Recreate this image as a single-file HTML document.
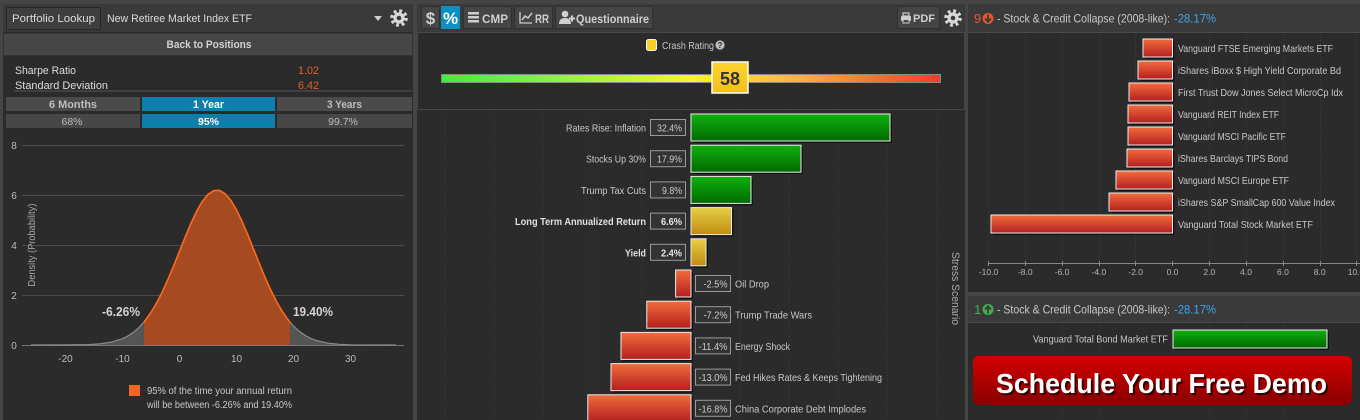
<!DOCTYPE html>
<html><head><meta charset="utf-8"><style>
html,body{margin:0;padding:0;background:#454545;width:1360px;height:420px;overflow:hidden}
svg{display:block}
text{font-family:"Liberation Sans",Arial,sans-serif}
</style></head><body>
<svg width="1360" height="420" viewBox="0 0 1360 420" xmlns="http://www.w3.org/2000/svg">
<defs>
<linearGradient id="gG" x1="0" y1="0" x2="0" y2="1"><stop offset="0" stop-color="#10b010"/><stop offset="1" stop-color="#006a00"/></linearGradient>
<linearGradient id="gY" x1="0" y1="0" x2="0" y2="1"><stop offset="0" stop-color="#e6cf45"/><stop offset="1" stop-color="#c08c12"/></linearGradient>
<linearGradient id="gR" x1="0" y1="0" x2="0" y2="1"><stop offset="0" stop-color="#f26c3c"/><stop offset="1" stop-color="#b41f20"/></linearGradient>
<linearGradient id="gBar" x1="0" y1="0" x2="1" y2="0"><stop offset="0" stop-color="#3cf03c"/><stop offset="0.5" stop-color="#f6f62c"/><stop offset="0.72" stop-color="#fcb232"/><stop offset="1" stop-color="#ff3434"/></linearGradient>
<linearGradient id="gBox" x1="0" y1="0" x2="0" y2="1"><stop offset="0" stop-color="#fdd22e"/><stop offset="1" stop-color="#f5bf1c"/></linearGradient>
<linearGradient id="gDemo" x1="0" y1="0" x2="0" y2="1"><stop offset="0" stop-color="#d40000"/><stop offset="1" stop-color="#880000"/></linearGradient>
</defs>

<!-- ============ LEFT PANEL ============ -->
<rect x="3" y="4" width="410" height="416" fill="#2b2b2b"/>
<rect x="3" y="4" width="410" height="28" fill="#3a3a3a"/>
<rect x="6.5" y="7.5" width="94" height="22" fill="#3e3e3e" stroke="#282828"/>
<text x="12" y="22" font-size="11" fill="#dcdcdc" textLength="83" lengthAdjust="spacingAndGlyphs">Portfolio Lookup</text>
<text x="107" y="22" font-size="11" fill="#dcdcdc" textLength="145" lengthAdjust="spacingAndGlyphs">New Retiree Market Index ETF</text>
<polygon points="374,16 382,16 378,21" fill="#d0d0d0"/>
<g transform="translate(399,18)"><circle r="7" fill="none" stroke="#d8d8d8" stroke-width="3.6" stroke-dasharray="2.75 2.75"/><circle r="5.6" fill="#d8d8d8"/><circle r="2.3" fill="#3a3a3a"/></g>
<rect x="3.5" y="33.5" width="409" height="22" fill="#464646" stroke="#333"/>
<text x="209" y="48" font-size="11" font-weight="bold" fill="#d0d0d0" text-anchor="middle" textLength="85" lengthAdjust="spacingAndGlyphs">Back to Positions</text>
<text x="15" y="74" font-size="11" fill="#dcdcdc" textLength="61" lengthAdjust="spacingAndGlyphs">Sharpe Ratio</text>
<text x="15" y="89" font-size="11" fill="#dcdcdc" textLength="93" lengthAdjust="spacingAndGlyphs">Standard Deviation</text>
<text x="298" y="74" font-size="11" fill="#e0622a" textLength="21" lengthAdjust="spacingAndGlyphs">1.02</text>
<text x="298" y="89" font-size="11" fill="#e0622a" textLength="21" lengthAdjust="spacingAndGlyphs">6.42</text>
<line x1="14" y1="91" x2="412" y2="91" stroke="#555"/>
<rect x="6" y="97" width="134" height="14" fill="#4a4a4a"/>
<rect x="142" y="97" width="133" height="14" fill="#0c7fad"/>
<rect x="277" y="97" width="135" height="14" fill="#4a4a4a"/>
<rect x="6" y="114" width="134" height="14" fill="#474747"/>
<rect x="142" y="114" width="133" height="14" fill="#0c7fad"/>
<rect x="277" y="114" width="135" height="14" fill="#474747"/>
<text x="73" y="108" font-size="11" font-weight="bold" fill="#bdbdbd" text-anchor="middle" textLength="48" lengthAdjust="spacingAndGlyphs">6 Months</text>
<text x="208.5" y="108" font-size="11" font-weight="bold" fill="#ffffff" text-anchor="middle" textLength="31" lengthAdjust="spacingAndGlyphs">1 Year</text>
<text x="344.5" y="108" font-size="11" font-weight="bold" fill="#bdbdbd" text-anchor="middle" textLength="35" lengthAdjust="spacingAndGlyphs">3 Years</text>
<text x="72" y="125" font-size="10.5" fill="#bdbdbd" text-anchor="middle">68%</text>
<text x="208.5" y="125" font-size="10.5" font-weight="bold" fill="#ffffff" text-anchor="middle">95%</text>
<text x="343" y="125" font-size="10.5" fill="#bdbdbd" text-anchor="middle">99.7%</text>

<!-- chart grid -->
<g stroke="#4c4c4c" stroke-width="1">
<line x1="22" y1="145.5" x2="404" y2="145.5"/>
<line x1="22" y1="195.5" x2="404" y2="195.5"/>
<line x1="22" y1="245.5" x2="404" y2="245.5"/>
<line x1="22" y1="295.5" x2="404" y2="295.5"/>
</g>
<line x1="22" y1="345.5" x2="404" y2="345.5" stroke="#777"/>
<g font-size="10" fill="#bbbbbb" text-anchor="middle">
<text x="14" y="149">8</text><text x="14" y="199">6</text><text x="14" y="249">4</text><text x="14" y="299">2</text><text x="14" y="349">0</text>
<text x="65.5" y="362">-20</text><text x="122.5" y="362">-10</text><text x="179.5" y="362">0</text><text x="236.5" y="362">10</text><text x="293.5" y="362">20</text><text x="350.5" y="362">30</text>
</g>
<text transform="translate(35,245) rotate(-90)" font-size="10" fill="#aaaaaa" text-anchor="middle" textLength="83" lengthAdjust="spacingAndGlyphs">Density (Probability)</text>

<!-- tails -->
<polygon fill="#555555" points="31,345 65.5,344.9 88.3,344.6 99.7,343.9 111.1,342.2 122.5,338.7 128.2,335.8 133.9,332 139.6,326.9 143.8,322.2 143.8,345"/>
<polygon fill="#555555" points="290.1,345 290.1,322.2 293.5,326.1 299.2,331.3 304.9,335.3 310.6,338.3 316.3,340.5 327.7,343.1 339.1,344.3 350.5,344.8 396,345"/>
<polyline fill="none" stroke="#8a8a8a" stroke-width="1.2" points="31,345 65.5,344.9 88.3,344.6 99.7,343.9 111.1,342.2 122.5,338.7 128.2,335.8 133.9,332 139.6,326.9 143.8,322.2"/>
<polyline fill="none" stroke="#8a8a8a" stroke-width="1.2" points="290.1,322.2 293.5,326.1 299.2,331.3 304.9,335.3 310.6,338.3 316.3,340.5 327.7,343.1 339.1,344.3 350.5,344.8 396,345"/>
<!-- center -->
<polygon fill="#a64a21" points="143.8,345 143.8,322.2 145.3,320.4 151,312.4 156.7,302.8 162.4,291.7 168.1,279.1 173.8,265.5 179.5,251.3 185.2,237 190.9,223.5 196.6,211.4 202.3,201.5 208,194.4 213.7,190.6 219.4,190.3 225.1,193.7 230.8,200.3 236.5,209.9 242.2,221.7 247.9,235.1 253.6,249.3 259.3,263.5 265,277.3 270.7,290 276.4,301.4 282.1,311.2 287.8,319.4 290.1,322.2 290.1,345"/>
<polyline fill="none" stroke="#ff6a1c" stroke-width="1.6" points="143.8,322.2 145.3,320.4 151,312.4 156.7,302.8 162.4,291.7 168.1,279.1 173.8,265.5 179.5,251.3 185.2,237 190.9,223.5 196.6,211.4 202.3,201.5 208,194.4 213.7,190.6 219.4,190.3 225.1,193.7 230.8,200.3 236.5,209.9 242.2,221.7 247.9,235.1 253.6,249.3 259.3,263.5 265,277.3 270.7,290 276.4,301.4 282.1,311.2 287.8,319.4 290.1,322.2"/>
<text x="102" y="316" font-size="13" font-weight="bold" fill="#d4d4d4" textLength="38" lengthAdjust="spacingAndGlyphs">-6.26%</text>
<text x="293" y="316" font-size="13" font-weight="bold" fill="#d4d4d4" textLength="40" lengthAdjust="spacingAndGlyphs">19.40%</text>
<rect x="129" y="385" width="11" height="11" fill="#f26522"/>
<text x="147" y="394" font-size="10" fill="#c8c8c8" textLength="145" lengthAdjust="spacingAndGlyphs">95% of the time your annual return</text>
<text x="147" y="408" font-size="10" fill="#c8c8c8" textLength="145" lengthAdjust="spacingAndGlyphs">will be between -6.26% and 19.40%</text>

<!-- ============ MIDDLE PANEL ============ -->
<rect x="417" y="4" width="548" height="416" fill="#2b2b2b"/>
<rect x="417" y="4" width="548" height="28" fill="#3a3a3a"/>
<rect x="421.5" y="6.5" width="18" height="22" fill="#454545" stroke="#303030"/>
<text x="430.5" y="24" font-size="17" font-weight="bold" fill="#cfcfcf" text-anchor="middle">$</text>
<rect x="441" y="6" width="19" height="23" fill="#0e8fc0"/>
<text x="450.5" y="24" font-size="17" font-weight="bold" fill="#ffffff" text-anchor="middle">%</text>
<rect x="463.5" y="6.5" width="48" height="22" fill="#454545" stroke="#303030"/>
<g fill="#cfcfcf"><rect x="468" y="12" width="11" height="2.5"/><rect x="468" y="16" width="11" height="2.5"/><rect x="468" y="20" width="11" height="2.5"/></g>
<text x="482" y="23" font-size="12" font-weight="bold" fill="#cfcfcf" textLength="26" lengthAdjust="spacingAndGlyphs">CMP</text>
<rect x="514.5" y="6.5" width="38" height="22" fill="#454545" stroke="#303030"/>
<polyline points="520,12 520,23 532,23" fill="none" stroke="#cfcfcf" stroke-width="1.3"/>
<polyline points="522,20 525,16 528,18 532,13" fill="none" stroke="#cfcfcf" stroke-width="1.5"/>
<text x="535" y="23" font-size="12" font-weight="bold" fill="#cfcfcf" textLength="14" lengthAdjust="spacingAndGlyphs">RR</text>
<rect x="555.5" y="6.5" width="97" height="22" fill="#454545" stroke="#303030"/>
<circle cx="565" cy="14" r="3.3" fill="#cfcfcf"/><path d="M559,24 Q559,18 565,18 Q571,18 571,24 Z" fill="#cfcfcf"/>
<rect x="569" y="17.5" width="6" height="2" fill="#cfcfcf"/><rect x="571" y="15.5" width="2" height="6" fill="#cfcfcf"/>
<text x="576" y="23" font-size="12" font-weight="bold" fill="#cfcfcf" textLength="73" lengthAdjust="spacingAndGlyphs">Questionnaire</text>
<rect x="897.5" y="6.5" width="42" height="22" fill="#454545" stroke="#303030"/>
<rect x="903" y="13" width="6" height="3" fill="none" stroke="#cfcfcf" stroke-width="1.2"/>
<rect x="901" y="16" width="10" height="5" rx="1" fill="#cfcfcf"/>
<rect x="903" y="19.5" width="6" height="3.5" fill="#454545" stroke="#cfcfcf" stroke-width="1"/>
<text x="913" y="22" font-size="11" font-weight="bold" fill="#cfcfcf" textLength="22" lengthAdjust="spacingAndGlyphs">PDF</text>
<g transform="translate(953,18)"><circle r="7" fill="none" stroke="#d8d8d8" stroke-width="3.6" stroke-dasharray="2.75 2.75"/><circle r="5.6" fill="#d8d8d8"/><circle r="2.3" fill="#3a3a3a"/></g>

<rect x="417.5" y="32.5" width="547" height="77" fill="#2b2b2b" stroke="#474747"/>
<rect x="646.5" y="39.5" width="10" height="11" rx="2" fill="#f7cf2a" stroke="#f2f2f2"/>
<text x="662" y="49" font-size="10" fill="#c8c8c8" textLength="52" lengthAdjust="spacingAndGlyphs">Crash Rating</text>
<circle cx="720" cy="45" r="4.6" fill="#bdbdbd"/>
<text x="720" y="48.2" font-size="8" font-weight="bold" fill="#2b2b2b" text-anchor="middle">?</text>
<rect x="441.5" y="74.5" width="499" height="8" fill="url(#gBar)" stroke="#8a8a8a"/>
<rect x="712" y="62" width="36" height="31" fill="url(#gBox)" stroke="#ffffff" stroke-width="1.5"/>
<text x="730" y="85" font-size="18" font-weight="bold" fill="#333333" text-anchor="middle">58</text>

<!-- grid -->
<g stroke="#3c3c3c" stroke-dasharray="1 2">
<line x1="445" y1="111" x2="445" y2="420"/><line x1="494" y1="111" x2="494" y2="420"/><line x1="543" y1="111" x2="543" y2="420"/>
<line x1="592" y1="111" x2="592" y2="420"/><line x1="642" y1="111" x2="642" y2="420"/><line x1="740" y1="111" x2="740" y2="420"/>
<line x1="789" y1="111" x2="789" y2="420"/><line x1="838" y1="111" x2="838" y2="420"/><line x1="887" y1="111" x2="887" y2="420"/><line x1="937" y1="111" x2="937" y2="420"/>
</g>

<!-- bars -->
<g fill="#000" opacity="0.55">
<rect x="693" y="116" width="199" height="27"/>
<rect x="693" y="147.2" width="110" height="27"/>
<rect x="693" y="178.4" width="60" height="27"/>
<rect x="693" y="209.6" width="40.5" height="27"/>
<rect x="693" y="240.8" width="15" height="27"/>
<rect x="677.6" y="272" width="15.4" height="27"/>
<rect x="648.8" y="303.2" width="44.2" height="27"/>
<rect x="623" y="334.4" width="70" height="27"/>
<rect x="613" y="365.6" width="80" height="27"/>
<rect x="589.8" y="396.8" width="103.2" height="27"/>
</g>
<g stroke="#ececec" stroke-width="1">
<rect x="691" y="114" width="199" height="27" fill="url(#gG)"/>
<rect x="691" y="145.2" width="110" height="27" fill="url(#gG)"/>
<rect x="691" y="176.4" width="60" height="27" fill="url(#gG)"/>
<rect x="691" y="207.6" width="40.5" height="27" fill="url(#gY)"/>
<rect x="691" y="238.8" width="15" height="27" fill="url(#gY)"/>
<rect x="675.6" y="270" width="15.4" height="27" fill="url(#gR)"/>
<rect x="646.8" y="301.2" width="44.2" height="27" fill="url(#gR)"/>
<rect x="621" y="332.4" width="70" height="27" fill="url(#gR)"/>
<rect x="611" y="363.6" width="80" height="27" fill="url(#gR)"/>
<rect x="587.8" y="394.8" width="103.2" height="27" fill="url(#gR)"/>
</g>
<!-- value boxes -->
<g fill="#333333" stroke="#9a9a9a">
<rect x="650.5" y="119.5" width="35" height="16"/>
<rect x="650.5" y="150.7" width="35" height="16"/>
<rect x="650.5" y="181.9" width="35" height="16"/>
<rect x="650.5" y="213.1" width="35" height="16"/>
<rect x="650.5" y="244.3" width="35" height="16"/>
<rect x="695.5" y="275.5" width="35" height="16"/>
<rect x="695.5" y="306.7" width="35" height="16"/>
<rect x="695.5" y="337.9" width="35" height="16"/>
<rect x="695.5" y="369.1" width="35" height="16"/>
<rect x="695.5" y="400.3" width="35" height="16"/>
</g>
<g font-size="10" fill="#cccccc" text-anchor="end">
<text x="682" y="131.5" textLength="25" lengthAdjust="spacingAndGlyphs">32.4%</text>
<text x="682" y="162.7" textLength="25" lengthAdjust="spacingAndGlyphs">17.9%</text>
<text x="682" y="193.9" textLength="20" lengthAdjust="spacingAndGlyphs">9.8%</text>
<text x="682" y="225.1" font-weight="bold" fill="#e6e6e6" textLength="21" lengthAdjust="spacingAndGlyphs">6.6%</text>
<text x="682" y="256.3" font-weight="bold" fill="#e6e6e6" textLength="21" lengthAdjust="spacingAndGlyphs">2.4%</text>
<text x="727.5" y="287.5" textLength="24" lengthAdjust="spacingAndGlyphs">-2.5%</text>
<text x="727.5" y="318.7" textLength="24" lengthAdjust="spacingAndGlyphs">-7.2%</text>
<text x="727.5" y="349.9" textLength="29" lengthAdjust="spacingAndGlyphs">-11.4%</text>
<text x="727.5" y="381.1" textLength="29" lengthAdjust="spacingAndGlyphs">-13.0%</text>
<text x="727.5" y="412.3" textLength="29" lengthAdjust="spacingAndGlyphs">-16.8%</text>
</g>
<g font-size="10.5" fill="#c8c8c8">
<text x="646" y="131.5" text-anchor="end" textLength="80" lengthAdjust="spacingAndGlyphs">Rates Rise: Inflation</text>
<text x="646" y="162.7" text-anchor="end" textLength="60" lengthAdjust="spacingAndGlyphs">Stocks Up 30%</text>
<text x="646" y="193.9" text-anchor="end" textLength="65" lengthAdjust="spacingAndGlyphs">Trump Tax Cuts</text>
<text x="646" y="225.1" text-anchor="end" font-weight="bold" fill="#e0e0e0" textLength="131" lengthAdjust="spacingAndGlyphs">Long Term Annualized Return</text>
<text x="646" y="256.3" text-anchor="end" font-weight="bold" fill="#e0e0e0" textLength="21" lengthAdjust="spacingAndGlyphs">Yield</text>
<text x="735" y="287.5" textLength="34" lengthAdjust="spacingAndGlyphs">Oil Drop</text>
<text x="735" y="318.7" textLength="77" lengthAdjust="spacingAndGlyphs">Trump Trade Wars</text>
<text x="735" y="349.9" textLength="55" lengthAdjust="spacingAndGlyphs">Energy Shock</text>
<text x="735" y="381.1" textLength="147" lengthAdjust="spacingAndGlyphs">Fed Hikes Rates &amp; Keeps Tightening</text>
<text x="735" y="412.3" textLength="131" lengthAdjust="spacingAndGlyphs">China Corporate Debt Implodes</text>
</g>
<text transform="translate(952,252) rotate(90)" font-size="11" fill="#aaaaaa" textLength="73" lengthAdjust="spacingAndGlyphs">Stress Scenario</text>

<!-- ============ RIGHT PANEL ============ -->
<rect x="968" y="4" width="392" height="416" fill="#2b2b2b"/>
<rect x="968" y="4" width="392" height="28" fill="#3a3a3a"/>
<line x1="968" y1="32.5" x2="1360" y2="32.5" stroke="#4a4a4a"/>
<text x="974" y="23" font-size="13" fill="#e8572a">9</text>
<circle cx="988" cy="18.5" r="5.5" fill="#e8572a"/>
<path d="M988,14.5 L988,21.5 M985,18.5 L988,21.8 L991,18.5" stroke="#3a3a3a" stroke-width="1.8" fill="none"/>
<text x="997" y="22.5" font-size="12" fill="#c8c8c8" textLength="173" lengthAdjust="spacingAndGlyphs">- Stock &amp; Credit Collapse (2008-like):</text>
<text x="1174" y="22.5" font-size="12" fill="#3fa6ef" textLength="42" lengthAdjust="spacingAndGlyphs">-28.17%</text>

<g stroke="#3c3c3c" stroke-dasharray="1 2">
<line x1="988.5" y1="34" x2="988.5" y2="262"/><line x1="1025.5" y1="34" x2="1025.5" y2="262"/><line x1="1062.5" y1="34" x2="1062.5" y2="262"/>
<line x1="1099.5" y1="34" x2="1099.5" y2="262"/><line x1="1135.5" y1="34" x2="1135.5" y2="262"/><line x1="1209.5" y1="34" x2="1209.5" y2="262"/>
<line x1="1246.5" y1="34" x2="1246.5" y2="262"/><line x1="1283.5" y1="34" x2="1283.5" y2="262"/><line x1="1320.5" y1="34" x2="1320.5" y2="262"/><line x1="1356.5" y1="34" x2="1356.5" y2="262"/>
</g>
<g fill="#000" opacity="0.55">
<rect x="1145" y="41" width="29.5" height="18"/>
<rect x="1140" y="63" width="34.5" height="18"/>
<rect x="1131" y="85" width="43.5" height="18"/>
<rect x="1130" y="107" width="44.5" height="18"/>
<rect x="1130" y="129" width="44.5" height="18"/>
<rect x="1129" y="151" width="45.5" height="18"/>
<rect x="1118" y="173" width="56.5" height="18"/>
<rect x="1111" y="195" width="63.5" height="18"/>
<rect x="993" y="217" width="181.5" height="18"/>
</g>
<g stroke="#ececec" stroke-width="1" fill="url(#gR)">
<rect x="1143" y="39" width="29.5" height="18"/>
<rect x="1138" y="61" width="34.5" height="18"/>
<rect x="1129" y="83" width="43.5" height="18"/>
<rect x="1128" y="105" width="44.5" height="18"/>
<rect x="1128" y="127" width="44.5" height="18"/>
<rect x="1127" y="149" width="45.5" height="18"/>
<rect x="1116" y="171" width="56.5" height="18"/>
<rect x="1109" y="193" width="63.5" height="18"/>
<rect x="991" y="215" width="181.5" height="18"/>
</g>
<g font-size="10.5" fill="#c8c8c8">
<text x="1178" y="52" textLength="155" lengthAdjust="spacingAndGlyphs">Vanguard FTSE Emerging Markets ETF</text>
<text x="1178" y="74" textLength="163" lengthAdjust="spacingAndGlyphs">iShares iBoxx $ High Yield Corporate Bd</text>
<text x="1178" y="96" textLength="165" lengthAdjust="spacingAndGlyphs">First Trust Dow Jones Select MicroCp Idx</text>
<text x="1178" y="118" textLength="101" lengthAdjust="spacingAndGlyphs">Vanguard REIT Index ETF</text>
<text x="1178" y="140" textLength="108" lengthAdjust="spacingAndGlyphs">Vanguard MSCI Pacific ETF</text>
<text x="1178" y="162" textLength="110" lengthAdjust="spacingAndGlyphs">iShares Barclays TIPS Bond</text>
<text x="1178" y="184" textLength="111" lengthAdjust="spacingAndGlyphs">Vanguard MSCI Europe ETF</text>
<text x="1178" y="206" textLength="157" lengthAdjust="spacingAndGlyphs">iShares S&amp;P SmallCap 600 Value Index</text>
<text x="1178" y="228" textLength="135" lengthAdjust="spacingAndGlyphs">Vanguard Total Stock Market ETF</text>
</g>
<line x1="988" y1="263.5" x2="1360" y2="263.5" stroke="#888"/>
<g stroke="#888">
<line x1="988.5" y1="261" x2="988.5" y2="266"/><line x1="1025.5" y1="261" x2="1025.5" y2="266"/><line x1="1062.5" y1="261" x2="1062.5" y2="266"/><line x1="1099.5" y1="261" x2="1099.5" y2="266"/><line x1="1135.5" y1="261" x2="1135.5" y2="266"/><line x1="1172.5" y1="261" x2="1172.5" y2="266"/><line x1="1209.5" y1="261" x2="1209.5" y2="266"/><line x1="1246.5" y1="261" x2="1246.5" y2="266"/><line x1="1283.5" y1="261" x2="1283.5" y2="266"/><line x1="1320.5" y1="261" x2="1320.5" y2="266"/><line x1="1356.5" y1="261" x2="1356.5" y2="266"/>
</g>
<g font-size="8.5" fill="#b5b5b5" text-anchor="middle">
<text x="988.5" y="275">-10.0</text><text x="1025.3" y="275">-8.0</text><text x="1062.1" y="275">-6.0</text><text x="1098.9" y="275">-4.0</text><text x="1135.7" y="275">-2.0</text><text x="1172.5" y="275">0.0</text><text x="1209.3" y="275">2.0</text><text x="1246.1" y="275">4.0</text><text x="1282.9" y="275">6.0</text><text x="1319.7" y="275">8.0</text><text x="1356" y="275">10.0</text>
</g>

<rect x="968" y="292" width="392" height="4" fill="#454545"/>
<rect x="968" y="296" width="392" height="26" fill="#3a3a3a"/>
<line x1="968" y1="322.5" x2="1360" y2="322.5" stroke="#4a4a4a"/>
<text x="974" y="314" font-size="13" fill="#3cb44a">1</text>
<circle cx="988" cy="309.5" r="5.5" fill="#3cb44a"/>
<path d="M988,313.5 L988,306.5 M985,309.5 L988,306.2 L991,309.5" stroke="#3a3a3a" stroke-width="1.8" fill="none"/>
<text x="997" y="313.5" font-size="12" fill="#c8c8c8" textLength="173" lengthAdjust="spacingAndGlyphs">- Stock &amp; Credit Collapse (2008-like):</text>
<text x="1174" y="313.5" font-size="12" fill="#3fa6ef" textLength="42" lengthAdjust="spacingAndGlyphs">-28.17%</text>
<g stroke="#3c3c3c" stroke-dasharray="1 2">
<line x1="1062.5" y1="324" x2="1062.5" y2="420"/><line x1="1099.5" y1="324" x2="1099.5" y2="420"/><line x1="1209.5" y1="324" x2="1209.5" y2="420"/><line x1="1246.5" y1="324" x2="1246.5" y2="420"/><line x1="1283.5" y1="324" x2="1283.5" y2="420"/>
</g>
<text x="1168" y="342.5" font-size="10.5" fill="#c8c8c8" text-anchor="end" textLength="135" lengthAdjust="spacingAndGlyphs">Vanguard Total Bond Market ETF</text>
<rect x="1175" y="332" width="154" height="18" fill="#000" opacity="0.55"/>
<rect x="1173" y="330" width="154" height="18" fill="url(#gG)" stroke="#ececec"/>
<rect x="973" y="356" width="379" height="49" rx="6" fill="url(#gDemo)"/>
<text x="1163.5" y="395" font-size="28" font-weight="bold" fill="#000" opacity="0.7" text-anchor="middle" textLength="331" lengthAdjust="spacingAndGlyphs">Schedule Your Free Demo</text>
<text x="1161.5" y="393" font-size="28" font-weight="bold" fill="#ffffff" text-anchor="middle" textLength="331" lengthAdjust="spacingAndGlyphs">Schedule Your Free Demo</text>
</svg>
</body></html>
